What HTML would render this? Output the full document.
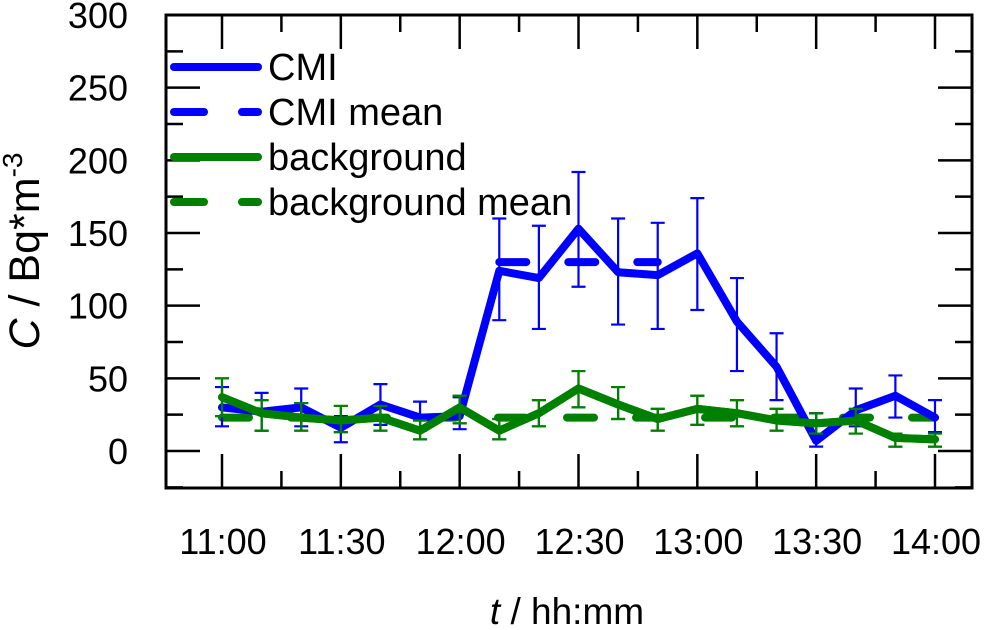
<!DOCTYPE html>
<html><head><meta charset="utf-8"><style>
body{margin:0;background:#fff}
svg{display:block}
text{font-family:"Liberation Sans",Arial,sans-serif;fill:#000}
</style></head><body>
<svg id="chart" width="994" height="630" viewBox="0 0 994 630" xmlns="http://www.w3.org/2000/svg">
<rect x="0" y="0" width="994" height="630" fill="#fff"/>
<g id="ticks"></g>
<g id="series"></g>
<rect x="166" y="15" width="806" height="473" fill="none" stroke="#000" stroke-width="3"/>
<g id="legend"></g>
<text transform="translate(39,251) rotate(-90)" text-anchor="middle" font-size="43"><tspan font-style="italic">C</tspan> / Bq*m<tspan dy="-17" font-size="28">-3</tspan></text>
<text x="567" y="624" text-anchor="middle" font-size="37"><tspan font-style="italic">t</tspan> / hh:mm</text>
</svg>
<script>
const times = [0,10,20,30,40,50,60,70,80,90,100,110,120,130,140,150,160,170,180];
const cmi = [30,27,30,16,32,23,24,124,119,153,123,121,136,89,58,7,28,38,23];
const cmiHi = [44,40,43,24,46,34,37,160,155,192,160,157,174,119,81,26,43,52,35];
const cmiLo = [17,14,17,6,18,14,15,90,84,113,87,84,97,55,35,3,17,23,13];
const bg = [37,26,23,21,23,14,30,14,26,43,32,22,29,26,21,19,21,9,8];
const bgHi = [50,35,33,31,31,21,38,22,35,55,44,29,38,35,29,26,29,12,12];
const bgLo = [24,14,14,13,14,8,19,8,17,30,22,14,18,17,14,12,12,3,3];
const cmiMean = [130];
const cmiMeanRange = [70,110];
const bgMean = [23];
const bgMeanRange = [0,180];
const yTicks = [0,50,100,150,200,250,300];
const xTicks = [0,30,60,90,120,150,180];
const xTickLabels = ["11:00","11:30","12:00","12:30","13:00","13:30","14:00"];

const NS="http://www.w3.org/2000/svg";
const X = t => 222 + t*(935-222)/180;
const Y = v => 451 - v*1.4533;
function mk(tag, attrs, parent){const e=document.createElementNS(NS,tag);for(const k in attrs)e.setAttribute(k,attrs[k]);parent.appendChild(e);return e;}
const tg=document.getElementById('ticks'), sg=document.getElementById('series'), lg=document.getElementById('legend');

for(let v=-25; v<=300; v+=25){
  if(Y(v)>488||Y(v)<15) continue;
  const major = yTicks.includes(v), len = major?34:17;
  const l1=mk('line',{x1:166,x2:166+len,y1:Y(v),y2:Y(v),stroke:'#000','stroke-width':2.5},tg);
  
  
  const l2=mk('line',{x1:972-len,x2:972,y1:Y(v),y2:Y(v),stroke:'#000','stroke-width':2.5},tg);
  
  
}
yTicks.forEach(v=>{
  const t=mk('text',{x:128,y:Y(v)+13,'text-anchor':'end','font-size':36},tg);
  t.textContent=v;
  
  
});
for(let t=-15; t<=195; t+=15){
  if(X(t)<166||X(t)>972) continue;
  const major = xTicks.includes(t), len = major?34:17;
  const a=mk('line',{x1:X(t),x2:X(t),y1:488,y2:488-len,stroke:'#000','stroke-width':2.5},tg);
  
  
  const b=mk('line',{x1:X(t),x2:X(t),y1:15,y2:15+len,stroke:'#000','stroke-width':2.5},tg);
  
  
}
xTicks.forEach((t,i)=>{
  const e=mk('text',{x:X(t)+1,y:554,'text-anchor':'middle','font-size':36},tg);
  e.textContent=xTickLabels[i];
  
  
});

function series(vals, hi, lo, color, name){
  const g=mk('g',{},sg);
  
  
  times.forEach((t,i)=>{
    const x=X(t);
    const eb=mk('path',{d:`M${x},${Y(hi[i])}V${Y(lo[i])}M${x-7},${Y(hi[i])}H${x+7}M${x-7},${Y(lo[i])}H${x+7}`,stroke:color,'stroke-width':2.2,fill:'none'},g);
    
    
  });
  const p=mk('polyline',{points:times.map((t,i)=>X(t)+','+Y(vals[i])).join(' '),stroke:color,'stroke-width':8,fill:'none','stroke-linejoin':'round','stroke-linecap':'round'},g);
  
  
}
function meanLine(v, range, color, name){
  const l=mk('line',{x1:X(range[0]),x2:X(range[1]),y1:Y(v[0]),y2:Y(v[0]),stroke:color,'stroke-width':8,'stroke-linecap':'round','stroke-dasharray':'27 42'},sg);
  
  
}
meanLine(bgMean,bgMeanRange,'#008000','background-mean-line');
series(bg,bgHi,bgLo,'#008000','background');
series(cmi,cmiHi,cmiLo,'#0000ff','cmi');
meanLine(cmiMean,cmiMeanRange,'#0000ff','cmi-mean-line');
series(bg,bgHi,bgLo,'#008000','background-top');

const leg=[["CMI","#0000ff",false],["CMI mean","#0000ff",true],["background","#008000",false],["background mean","#008000",true]];
leg.forEach((e,i)=>{
  const y=67+i*45;
  const l=mk('line',{x1:174,x2:258,y1:y,y2:y,stroke:e[1],'stroke-width':8,'stroke-linecap':'round'},lg);
  if(e[2]) l.setAttribute('stroke-dasharray','30 38');
  
  
  const t=mk('text',{x:268,y:y+13,'font-size':38},lg);
  t.textContent=e[0];
  
  
});
</script>
</body></html>
